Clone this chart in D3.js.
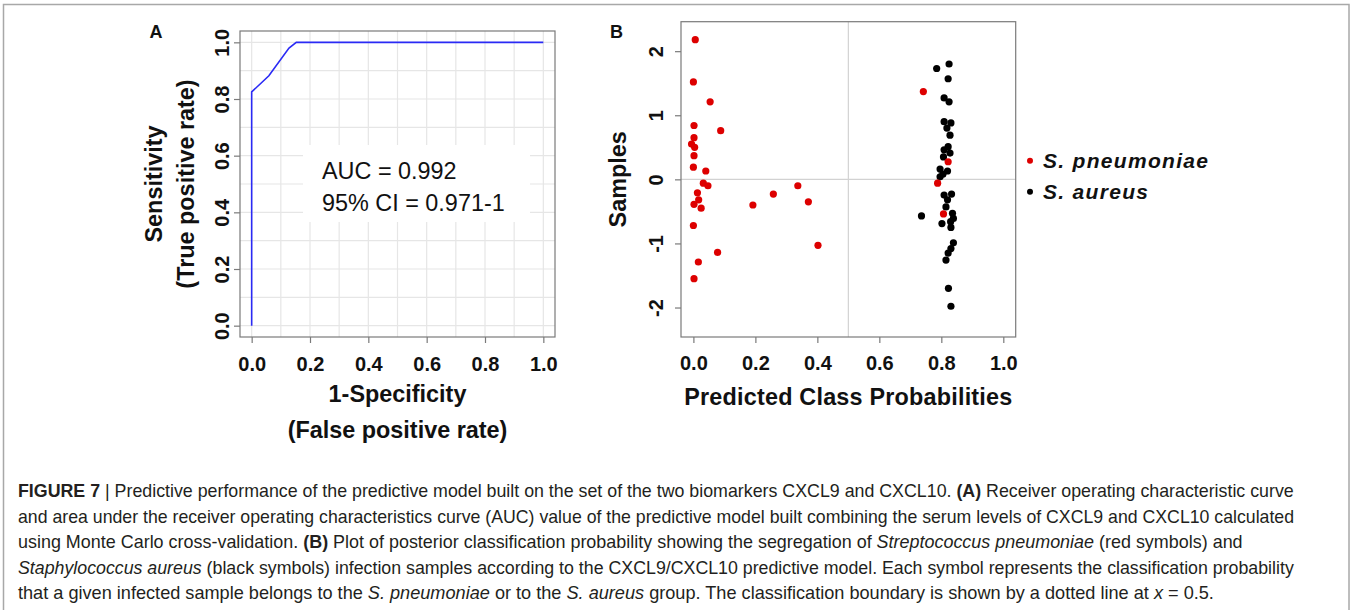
<!DOCTYPE html>
<html><head><meta charset="utf-8">
<script src="https://cdn.jsdelivr.net/npm/d3@7"></script>
<style>
html,body{margin:0;padding:0;background:#fff;}
svg{display:block;}
text{font-family:"Liberation Sans",Arial,sans-serif;}
</style></head>
<body>
<svg id="fig" width="1353" height="610"></svg>
<script>
// ---------- Data ----------
const rocFpr = [0, 0, 0.059, 0.128, 0.153, 1];
const rocTpr = [0, 0.825, 0.882, 0.98, 1, 1];
const aucLabels = ["AUC = 0.992", "95% CI = 0.971-1"];
const ticksA = [0, 0.2, 0.4, 0.6, 0.8, 1.0];
const ticksBx = [0, 0.2, 0.4, 0.6, 0.8, 1.0];
const ticksBy = [-2, -1, 0, 1, 2];

const redX = [0.006,0.000,0.054,0.002,0.088,0.002,-0.006,0.004,0.002,0.000,0.040,0.032,0.047,0.013,0.017,0.002,0.025,0.192,0.258,0.337,0.371,0.402,0.000,0.078,0.016,0.002,0.742,0.822,0.788,0.807];
const redY = [2.18,1.52,1.21,0.84,0.76,0.65,0.55,0.50,0.37,0.19,0.13,-0.06,-0.10,-0.21,-0.32,-0.39,-0.45,-0.40,-0.23,-0.10,-0.35,-1.03,-0.72,-1.14,-1.29,-1.55,1.37,0.275,-0.06,-0.54];
const blackX = [0.785,0.825,0.822,0.809,0.825,0.809,0.831,0.818,0.828,0.822,0.809,0.828,0.807,0.796,0.820,0.805,0.796,0.809,0.833,0.820,0.815,0.836,0.839,0.830,0.736,0.802,0.831,0.839,0.831,0.822,0.815,0.823,0.831];
const blackY = [1.73,1.80,1.57,1.27,1.21,0.90,0.88,0.80,0.69,0.51,0.46,0.41,0.35,0.16,0.13,0.08,0.04,-0.245,-0.23,-0.32,-0.43,-0.53,-0.61,-0.66,-0.57,-0.69,-0.75,-0.99,-1.08,-1.15,-1.26,-1.70,-1.98];
const legendLabels = ["S. pneumoniae", "S. aureus"];
const legendColors = ["#dd0000", "#000000"];

const captionLines = [
  [["b","FIGURE 7"],["n"," | Predictive performance of the predictive model built on the set of the two biomarkers CXCL9 and CXCL10. "],["b","(A)"],["n"," Receiver operating characteristic curve"]],
  [["n","and area under the receiver operating characteristics curve (AUC) value of the predictive model built combining the serum levels of CXCL9 and CXCL10 calculated"]],
  [["n","using Monte Carlo cross-validation. "],["b","(B)"],["n"," Plot of posterior classification probability showing the segregation of "],["i","Streptococcus pneumoniae"],["n"," (red symbols) and"]],
  [["i","Staphylococcus aureus"],["n"," (black symbols) infection samples according to the CXCL9/CXCL10 predictive model. Each symbol represents the classification probability"]],
  [["n","that a given infected sample belongs to the "],["i","S. pneumoniae"],["n"," or to the "],["i","S. aureus"],["n"," group. The classification boundary is shown by a dotted line at "],["i","x"],["n"," = 0.5."]]
];
const captionWidths = [1277, 1277, 1225, 1277, 1197];

// ---------- Drawing ----------
const svg = d3.select("#fig");
const boxColor = "#7a7a7a";
const gridColor = "#e6e6e6";

// outer frame
svg.append("rect").attr("x",3.5).attr("y",4.5).attr("width",1345.5).attr("height",700)
  .attr("fill","none").attr("stroke","#a8a8a8").attr("stroke-width",1.5);

// ===== Panel A =====
const A = {l:240, r:555, t:31, b:337};
const xA = d3.scaleLinear([-0.04,1.04],[A.l,A.r]);
const yA = d3.scaleLinear([-0.04,1.04],[A.b,A.t]);
const gA = svg.append("g");
const gridVals = d3.range(0, 11).map(i => i/10);
gA.selectAll(".gv").data(gridVals).join("line")
  .attr("x1",d=>xA(d)).attr("x2",d=>xA(d)).attr("y1",A.t).attr("y2",A.b)
  .attr("stroke",gridColor).attr("stroke-width",1.2);
gA.selectAll(".gh").data(gridVals).join("line")
  .attr("y1",d=>yA(d)).attr("y2",d=>yA(d)).attr("x1",A.l).attr("x2",A.r)
  .attr("stroke",gridColor).attr("stroke-width",1.2);
// white label area
gA.append("rect").attr("x",303).attr("y",145).attr("width",227).attr("height",77).attr("fill","#fff");
// ROC line
const rocPts = rocFpr.map((f,i)=>[f, rocTpr[i]]);
gA.append("path").datum(rocPts)
  .attr("d", d3.line().x(d=>xA(d[0])).y(d=>yA(d[1])))
  .attr("fill","none").attr("stroke","#2a2af5").attr("stroke-width",1.6);
// box
gA.append("rect").attr("x",A.l).attr("y",A.t).attr("width",A.r-A.l).attr("height",A.b-A.t)
  .attr("fill","none").attr("stroke",boxColor).attr("stroke-width",1.2);
// axes
const axAx = gA.append("g").attr("transform",`translate(0,${A.b})`)
  .call(d3.axisBottom(xA).tickValues(ticksA).tickSize(6).tickFormat(d3.format(".1f")));
const axAy = gA.append("g").attr("transform",`translate(${A.l},0)`)
  .call(d3.axisLeft(yA).tickValues(ticksA).tickSize(6).tickFormat(d3.format(".1f")));
[axAx, axAy].forEach(g=>{
  g.select(".domain").remove();
  g.selectAll("line").attr("stroke",boxColor).attr("stroke-width",1.2);
  g.selectAll("text").attr("font-family","Liberation Sans, Arial, sans-serif")
   .attr("font-size",20).attr("font-weight","bold").attr("fill","#111");
});
axAx.selectAll("text").attr("y",34).attr("dy",0);
axAy.selectAll("text").attr("transform","rotate(-90)").attr("x",0).attr("y",-11).attr("dy",0)
  .attr("text-anchor","middle");
// AUC text
gA.selectAll(".auc").data(aucLabels).join("text")
  .attr("x",322).attr("y",(d,i)=>179 + i*31.7)
  .attr("font-size",23.4).attr("fill","#111").text(d=>d);
// titles
const cxA = (A.l+A.r)/2, cyA = (A.t+A.b)/2;
gA.append("text").attr("x",cxA).attr("y",402).attr("text-anchor","middle")
  .attr("font-size",23.4).attr("font-weight","bold").attr("fill","#111").text("1-Specificity");
gA.append("text").attr("x",cxA).attr("y",438).attr("text-anchor","middle")
  .attr("font-size",23.4).attr("font-weight","bold").attr("fill","#111").text("(False positive rate)");
gA.append("text").attr("transform",`translate(162,${cyA}) rotate(-90)`).attr("text-anchor","middle")
  .attr("font-size",23.4).attr("font-weight","bold").attr("fill","#111").text("Sensitivity");
gA.append("text").attr("transform",`translate(194,${cyA}) rotate(-90)`).attr("text-anchor","middle")
  .attr("font-size",23.4).attr("font-weight","bold").attr("fill","#111").text("(True positive rate)");
gA.append("text").attr("x",156).attr("y",38).attr("text-anchor","middle")
  .attr("font-size",18).attr("font-weight","bold").attr("fill","#111").text("A");

// ===== Panel B =====
const B = {l:681, r:1015.7, t:21.7, b:337};
const xB = d3.scaleLinear([-0.04,1.04],[B.l,B.r]);
const yB = d3.scaleLinear([-2.46,2.46],[B.b,B.t]);
const gB = svg.append("g");
gB.append("line").attr("x1",xB(0.5)).attr("x2",xB(0.5)).attr("y1",B.t).attr("y2",B.b)
  .attr("stroke","#d2d2d2").attr("stroke-width",1.2);
gB.append("line").attr("y1",yB(0)).attr("y2",yB(0)).attr("x1",B.l).attr("x2",B.r)
  .attr("stroke","#d2d2d2").attr("stroke-width",1.2);
const blackPts = blackX.map((x,i)=>[x, blackY[i]]);
const redPts = redX.map((x,i)=>[x, redY[i]]);
gB.selectAll(".pb").data(blackPts).join("circle")
  .attr("cx",d=>xB(d[0])).attr("cy",d=>yB(d[1])).attr("r",3.6).attr("fill",legendColors[1]);
gB.selectAll(".pr").data(redPts).join("circle")
  .attr("cx",d=>xB(d[0])).attr("cy",d=>yB(d[1])).attr("r",3.6).attr("fill",legendColors[0]);
gB.append("rect").attr("x",B.l).attr("y",B.t).attr("width",B.r-B.l).attr("height",B.b-B.t)
  .attr("fill","none").attr("stroke",boxColor).attr("stroke-width",1.2);
const axBx = gB.append("g").attr("transform",`translate(0,${B.b})`)
  .call(d3.axisBottom(xB).tickValues(ticksBx).tickSize(6).tickFormat(d3.format(".1f")));
const axBy = gB.append("g").attr("transform",`translate(${B.l},0)`)
  .call(d3.axisLeft(yB).tickValues(ticksBy).tickSize(6).tickFormat(d3.format("d")));
[axBx, axBy].forEach(g=>{
  g.select(".domain").remove();
  g.selectAll("line").attr("stroke",boxColor).attr("stroke-width",1.2);
  g.selectAll("text").attr("font-family","Liberation Sans, Arial, sans-serif")
   .attr("font-size",20).attr("font-weight","bold").attr("fill","#111");
});
axBx.selectAll("text").attr("y",33).attr("dy",0);
axBy.selectAll("text").attr("transform","rotate(-90)").attr("x",0).attr("y",-18).attr("dy",0)
  .attr("text-anchor","middle").text(d=>String(d).replace("\u2212","-"));
const cxB = (B.l+B.r)/2, cyB = (B.t+B.b)/2;
gB.append("text").attr("x",cxB).attr("y",405).attr("text-anchor","middle")
  .attr("font-size",23.4).attr("font-weight","bold").attr("fill","#111").attr("letter-spacing",0.2)
  .text("Predicted Class Probabilities");
gB.append("text").attr("transform",`translate(626,${cyB}) rotate(-90)`).attr("text-anchor","middle")
  .attr("font-size",23.4).attr("font-weight","bold").attr("fill","#111").text("Samples");
gB.append("text").attr("x",610).attr("y",38)
  .attr("font-size",18).attr("font-weight","bold").attr("fill","#111").text("B");
// legend
const lg = gB.selectAll(".lg").data(legendLabels).join("g")
  .attr("transform",(d,i)=>`translate(1030,${160.7 + i*31})`);
lg.append("circle").attr("r",3).attr("fill",(d,i)=>legendColors[i]);
lg.append("text").attr("x",13).attr("y",6.8).attr("font-size",21).attr("font-weight","bold")
  .attr("font-style","italic").attr("letter-spacing",1.3).attr("fill","#111").text(d=>d);

// ===== Caption =====
const gC = svg.append("g");
captionLines.forEach((parts, i)=>{
  const t = gC.append("text").attr("x",0).attr("y",0)
    .attr("font-size",17.5).attr("fill","#231f20");
  parts.forEach(([s, str])=>{
    const ts = t.append("tspan").text(str);
    if (s==="b") ts.attr("font-weight","bold");
    if (s==="i") ts.attr("font-style","italic");
  });
  const w = t.node().getComputedTextLength();
  const k = captionWidths[i] / w;
  t.attr("transform",`translate(18,${497 + i*25.5}) scale(${k},1)`);
});
</script>
</body></html>
